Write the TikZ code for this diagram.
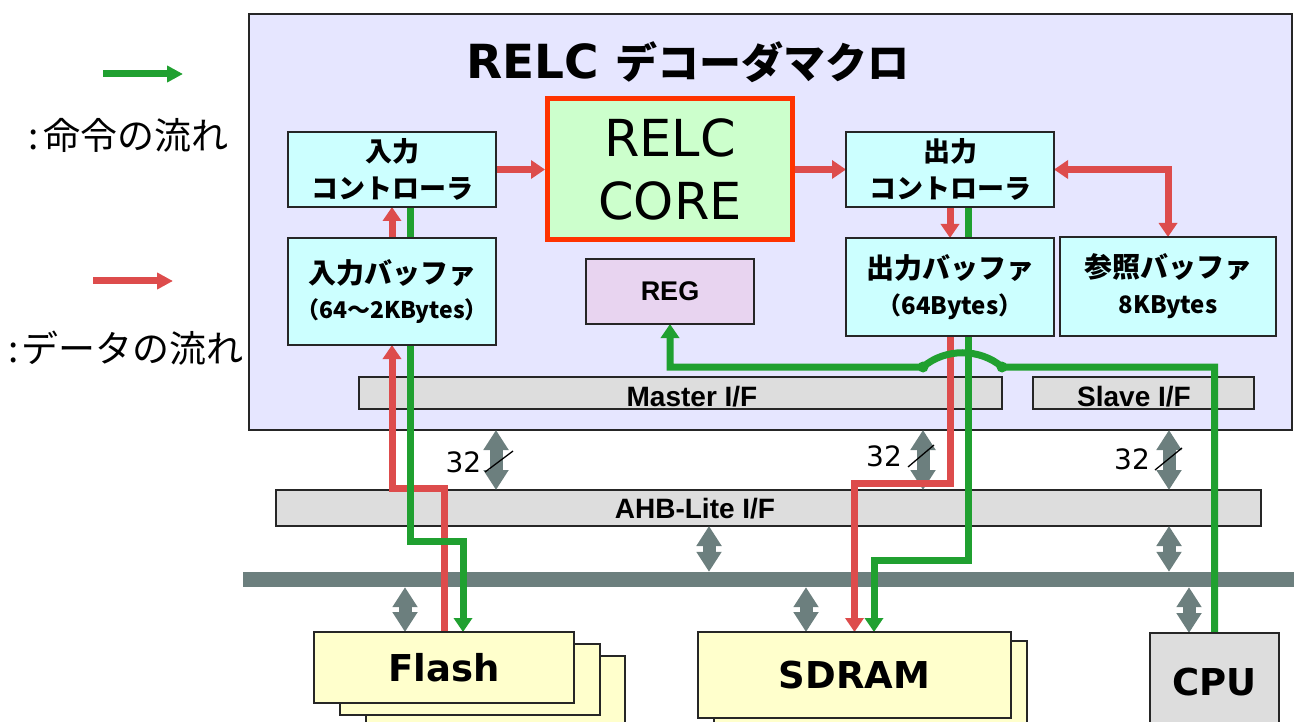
\documentclass[tikz,border=0pt]{standalone}
\usepackage{fontspec}
\setmainfont{DejaVu Sans}
\newfontfamily\jp{Noto Sans CJK JP}
\newfontfamily\lib{Liberation Sans}
\usetikzlibrary{arrows.meta}
\definecolor{macrofill}{HTML}{E6E6FF}
\definecolor{cyanfill}{HTML}{CCFFFF}
\definecolor{corefill}{HTML}{CCFFCC}
\definecolor{corered}{HTML}{FF3300}
\definecolor{regfill}{HTML}{E8D4F0}
\definecolor{barfill}{HTML}{DDDDDD}
\definecolor{memfill}{HTML}{FFFFCC}
\definecolor{datared}{HTML}{DD4C4C}
\definecolor{cmdgreen}{HTML}{20A030}
\definecolor{busgray}{HTML}{6C7F7E}
\pgfdeclarelayer{bg}
\pgfdeclarelayer{mid}
\pgfsetlayers{bg,mid,main}
\begin{document}
\begin{tikzpicture}[x=1pt,y=-1pt,
  box/.style={draw=black!85, line width=1.5pt, inner sep=0pt, outer sep=0pt},
  cbox/.style={box, fill=cyanfill},
  bar/.style={box, fill=barfill},
  mem/.style={box, fill=memfill},
  dline/.style={draw=datared, line width=7pt},
  cline/.style={draw=cmdgreen, line width=7pt},
  tipr/.style={-{Triangle[width=18pt,length=14pt]}},
  bothtips/.style={{Triangle[width=18pt,length=14pt]}-{Triangle[width=18pt,length=14pt]}},
  legtip/.style={-{Triangle[width=16pt,length=16pt]}},
  gdbl/.style={draw=busgray, line width=13pt, {Triangle[width=24pt,length=20pt]}-{Triangle[width=24pt,length=20pt]}},
  jptwo/.style={align=center, font=\jp\bfseries\fontsize{27}{37}\selectfont},
  barlabel/.style={inner sep=0pt, font=\lib\bfseries\fontsize{28}{28}\selectfont},
  memlabel/.style={font=\bfseries\fontsize{37}{37}\selectfont},
  numlab/.style={inner sep=0pt, font=\fontsize{28}{28}\selectfont},
  slash/.style={draw=black, line width=1.3pt},
  legtext/.style={inner sep=0pt, anchor=west, font=\jp\fontsize{37}{37}\selectfont}
]
\useasboundingbox (0,0) rectangle (1294,722);
\clip (0,0) rectangle (1294,722);

% ---------- background: macro box, interface bars, bus ----------
\begin{pgfonlayer}{bg}
\node[box, fill=macrofill, minimum width=1043pt, minimum height=416pt] (macro) at (770.5,222) {};
\node[bar, minimum width=643pt, minimum height=32pt] (master) at (680.5,393) {};
\node[bar, minimum width=221pt, minimum height=32pt] (slave) at (1143.5,393) {};
\node[bar, minimum width=985pt, minimum height=36pt] (ahb) at (768.5,508) {};
\node[fill=busgray, inner sep=0pt, minimum width=1051pt, minimum height=15pt] (bus) at (768.5,579.5) {};
\node[barlabel] (masterT) at (692,397) {Master I/F};
\node[barlabel] (slaveT) at (1134,397) {Slave I/F};
\node[barlabel] (ahbT) at (695,509) {AHB-Lite I/F};
\end{pgfonlayer}

% ---------- title and legend ----------
\node[inner sep=0pt] (title) at (688,62) {{\bfseries\fontsize{47}{47}\selectfont RELC}\hspace{17pt}{\jp\bfseries\fontsize{42}{42}\selectfont デコーダマクロ}};
\coordinate (lgA) at (103,74);
\coordinate (lgB) at (183,74);
\coordinate (lrA) at (93,281);
\coordinate (lrB) at (173,281);
\draw[cline, legtip] (lgA) -- (lgB);
\draw[dline, legtip] (lrA) -- (lrB);
\node[legtext] (legG) at (28,135) {:\hspace{5pt}命令の流れ};
\node[legtext] (legR) at (8,348) {:\hspace{3pt}データの流れ};

% ---------- blocks inside the macro ----------
\node[cbox, jptwo, minimum width=208pt, minimum height=75pt] (inctrl) at (392,169.5) {入力\\コントローラ};
\node[cbox, align=center, font=\jp\bfseries\fontsize{28}{35}\selectfont, minimum width=208pt, minimum height=107pt] (inbuf) at (392,291.5) {入力バッファ\\{\fontsize{23}{35}\selectfont （64～2KBytes）}};
\node[draw=corered, line width=5pt, fill=corefill, inner sep=0pt, align=center, font=\fontsize{51}{63}\selectfont, minimum width=245pt, minimum height=141pt] (core) at (670,169.5) {RELC\\CORE};
\node[box, fill=regfill, font=\lib\bfseries\fontsize{27}{27}\selectfont, minimum width=168pt, minimum height=65pt] (reg) at (670,291.5) {REG};
\node[cbox, jptwo, minimum width=208pt, minimum height=75pt] (outctrl) at (950,169.5) {出力\\コントローラ};
\node[cbox, align=center, font=\jp\bfseries\fontsize{28}{36}\selectfont, minimum width=208pt, minimum height=98pt] (outbuf) at (950,287) {出力バッファ\\{\fontsize{24}{36}\selectfont （64Bytes）}};
\node[cbox, align=center, font=\jp\bfseries\fontsize{28}{36}\selectfont, minimum width=216pt, minimum height=99pt] (refbuf) at (1168,286.5) {参照バッファ\\{\fontsize{24}{36}\selectfont 8KBytes}};

% ---------- external devices ----------
\node[mem, minimum width=259pt, minimum height=90pt] (flash3) at (495.5,701) {};
\node[mem, minimum width=260pt, minimum height=71pt] (flash2) at (470,679.5) {};
\node[mem, memlabel, minimum width=260pt, minimum height=71pt] (flash) at (444,667.5) {Flash};
\node[mem, minimum width=313pt, minimum height=100pt] (sdram2) at (870.5,691) {};
\node[mem, memlabel, minimum width=313pt, minimum height=86pt] (sdram) at (854.5,675) {SDRAM};
\node[box, fill=barfill, memlabel, minimum width=129pt, minimum height=98pt] (cpu) at (1214.5,682) {CPU};

% ---------- connectors ----------
\begin{pgfonlayer}{mid}
% bus double arrows
\coordinate (gx1) at (496,0);
\coordinate (gx2) at (923,0);
\coordinate (gx3) at (1169,0);
\coordinate (gx4) at (709,0);
\coordinate (gx6) at (405,0);
\coordinate (gx7) at (806,0);
\coordinate (gx8) at (1189,0);
\draw[gdbl] (macro.south -| gx1) -- (ahb.north -| gx1);
\draw[gdbl] (macro.south -| gx2) -- (ahb.north -| gx2);
\draw[gdbl] (macro.south -| gx3) -- (ahb.north -| gx3);
\draw[gdbl] (ahb.south -| gx4) -- (bus.north -| gx4);
\draw[gdbl] (ahb.south -| gx3) -- (bus.north -| gx3);
\draw[gdbl] (bus.south -| gx6) -- (flash.north -| gx6);
\draw[gdbl] (bus.south -| gx7) -- (sdram.north -| gx7);
\draw[gdbl] (bus.south -| gx8) -- (cpu.north -| gx8);
% 32-bit labels
\node[numlab] (w1) at (463.5,462) {32};
\draw[slash] (485,472) -- (513,451);
\node[numlab] (w2) at (884,456) {32};
\draw[slash] (908,467) -- (934,445);
\node[numlab] (w3) at (1132,459) {32};
\draw[slash] (1155,470) -- (1182,448);

% data (red)
\draw[dline, tipr] (inctrl.east) -- (core.west);
\draw[dline, tipr] (core.east) -- (outctrl.west);
\draw[dline, tipr] (inbuf.north) -- (inctrl.south);
\draw[dline, tipr] (outctrl.south) -- (outbuf.north);
\draw[dline, bothtips] (outctrl.east) -| (refbuf.north);
\draw[dline, tipr] (flash.north) -- ++(0,-144) -| (inbuf.south);
\draw[dline, tipr] (outbuf.south) -- ++(0,147) -| (sdram.north);
% commands (green)
\draw[cline, tipr] ([xshift=18pt]inctrl.south) -- ++(0,334) -| ([xshift=19pt]flash.north);
\draw[cline, tipr] ([xshift=18pt]outctrl.south) -- ++(0,353) -| ([xshift=19.5pt]sdram.north);
\coordinate (j1) at (923,367);
\coordinate (j2) at (1002,367);
\draw[cline, tipr] (cpu.north) |- (j2) .. controls (980,348) and (945,348) .. (j1) -| (reg.south);
\fill[cmdgreen] (j1) circle[radius=5.5pt];
\fill[cmdgreen] (j2) circle[radius=5.5pt];
\end{pgfonlayer}
\end{tikzpicture}
\end{document}
